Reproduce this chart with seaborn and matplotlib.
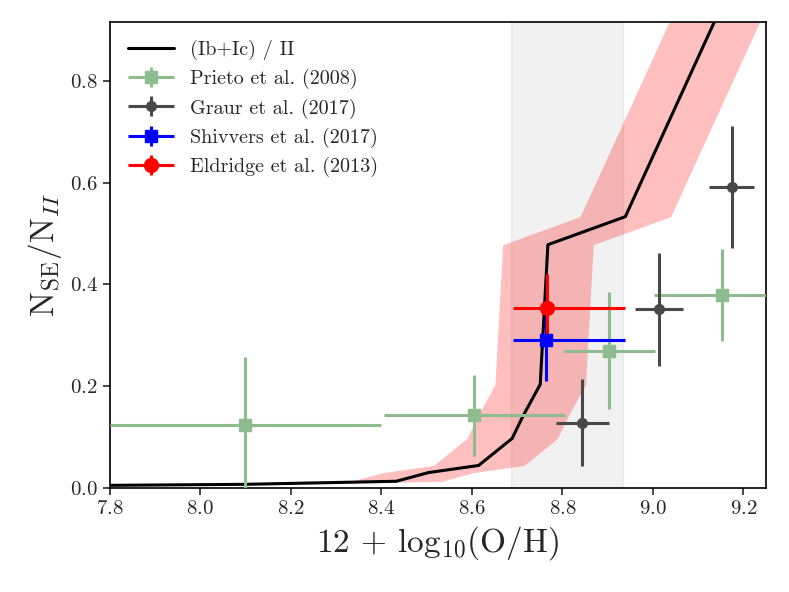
import numpy as np
import matplotlib
matplotlib.use("Agg")
import matplotlib.pyplot as plt
from matplotlib.container import ErrorbarContainer
from matplotlib.legend_handler import HandlerErrorbar
import seaborn as sns

# model ratio (Ib+Ic)/II vs metallicity
model_z = [7.80, 8.10, 8.433, 8.504, 8.615, 8.689, 8.713, 8.751, 8.768, 8.939, 9.20]
model_ratio = [0.006, 0.008, 0.014, 0.031, 0.045, 0.098, 0.142, 0.204, 0.478, 0.533, 1.04]
z_err = 0.1  # metallicity uncertainty of the model band

# Prieto et al. (2008)
prieto_z = [8.10, 8.605, 8.904, 9.153]
prieto_r = [0.125, 0.143, 0.270, 0.379]
prieto_zerr = [0.30, 0.20, 0.10, 0.15]
prieto_rerr = [0.132, 0.080, 0.115, 0.090]

# Graur et al. (2017)
graur_z = [8.844, 9.014, 9.174]
graur_r = [0.129, 0.351, 0.591]
graur_zerr = [0.058, 0.053, 0.050]
graur_rerr = [0.085, 0.110, 0.120]

# Shivvers et al. (2017)
shiv_z = [8.763]
shiv_r = [0.291]
shiv_zerr = [[0.072], [0.175]]
shiv_rerr = [0.080]

# Eldridge et al. (2013)
eld_z = [8.765]
eld_r = [0.353]
eld_zerr = [[0.074], [0.173]]
eld_rerr = [0.068]

# metallicity range shaded in grey
span_lo, span_hi = 8.686, 8.934

sns.set_style("ticks")
plt.rcParams["font.family"] = "serif"
plt.rcParams["font.serif"] = ["cmr10", "DejaVu Serif"]
plt.rcParams["mathtext.fontset"] = "cm"
plt.rcParams["axes.formatter.use_mathtext"] = True
plt.rcParams["axes.unicode_minus"] = False

fig = plt.figure(figsize=(7.89, 5.92), dpi=100)
ax = fig.add_axes([0.139, 0.175, 0.832, 0.788])

ax.axvspan(span_lo, span_hi, color="grey", alpha=0.11, zorder=0)

mz = np.array(model_z)
ax.fill_betweenx(model_ratio, mz - z_err, mz + z_err, color="red", alpha=0.25,
                 lw=0, zorder=1)
sns.lineplot(x=model_z, y=model_ratio, sort=False, color="black", lw=2.2,
             label="(Ib+Ic) / II", ax=ax, zorder=2)

ax.errorbar(prieto_z, prieto_r, xerr=prieto_zerr, yerr=prieto_rerr, fmt="s",
            color="darkseagreen", ms=8, lw=2.2, label="Prieto et al. (2008)", zorder=3)
ax.errorbar(graur_z, graur_r, xerr=graur_zerr, yerr=graur_rerr, fmt="o",
            color="#484848", ms=7, lw=2.2, label="Graur et al. (2017)", zorder=3)
ax.errorbar(shiv_z, shiv_r, xerr=shiv_zerr, yerr=shiv_rerr, fmt="s",
            color="blue", ms=9, lw=2.2, label="Shivvers et al. (2017)", zorder=4)
ax.errorbar(eld_z, eld_r, xerr=eld_zerr, yerr=eld_rerr, fmt="o",
            color="red", ms=10, lw=2.2, label="Eldridge et al. (2013)", zorder=4)

ax.set_xlim(7.8, 9.25)
ax.set_ylim(0, 0.915)
ax.set_xticks([7.8, 8.0, 8.2, 8.4, 8.6, 8.8, 9.0, 9.2])
ax.set_yticks([0.0, 0.2, 0.4, 0.6, 0.8])
ax.tick_params(labelsize=15, direction="out", length=5, width=1.2)
for s in ax.spines.values():
    s.set_linewidth(1.2)
    s.set_color("black")

ax.set_xlabel(r"12 + log$_{10}$(O/H)", fontsize=24)
ax.set_ylabel(r"N$_{\rm SE}$/N$_{II}$", fontsize=24)

# full-width horizontal bars in the legend handles
ax.legend(loc="upper left", fontsize=14.5, frameon=False, handlelength=2.3,
          borderaxespad=0.5, labelspacing=0.45,
          handler_map={ErrorbarContainer: HandlerErrorbar(xerr_size=1.15, yerr_size=0.5)})

fig.savefig("out.png", dpi=100)
